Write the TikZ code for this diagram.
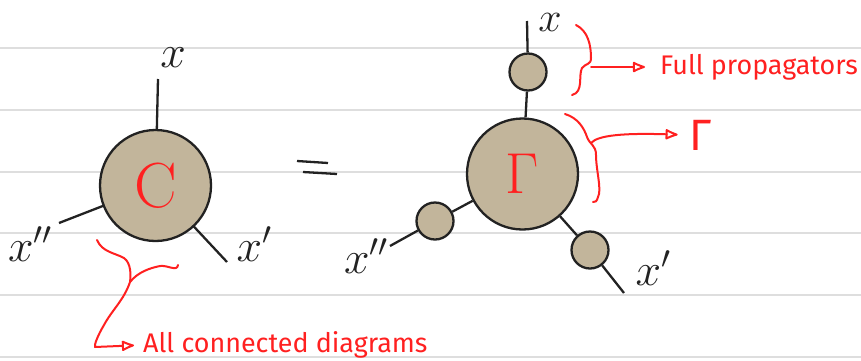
\RequirePackage{fix-cm}
\documentclass[tikz,border=0pt]{standalone}
\usepackage{fontspec}
\setsansfont{Fira Sans}
\usetikzlibrary{arrows.meta}
\definecolor{rule}{HTML}{DEDEDE}
\definecolor{blob}{HTML}{C2B59B}
\definecolor{ink}{HTML}{222222}
\definecolor{pen}{HTML}{FF2020}
\tikzset{
  bigblob/.style={circle,draw=ink,line width=2.3bp,fill=blob,minimum size=111bp,inner sep=0pt,text=pen},
  smallblob/.style={circle,draw=ink,line width=2.3bp,fill=blob,minimum size=37bp,inner sep=0pt},
  leg/.style={draw=ink,line width=2.3bp},
  hand/.style={text=ink,font=\fontsize{46}{46}\selectfont,inner sep=0pt},
  redpen/.style={draw=pen,line width=2bp,line cap=round,line join=round},
  redtip/.style={-{Latex[open,length=15bp,width=12bp,round]}},
  note/.style={text=pen,font=\sffamily\fontsize{27}{30}\selectfont,inner sep=0pt,anchor=west},
  ruling/.style={draw=rule,line width=2.5bp}
}
\begin{document}
\begin{tikzpicture}[x=1bp,y=-1bp]
\useasboundingbox (0,0) rectangle (861,360);
% ruled lines
\foreach \yy in {48,110,172,233,295,357}{\draw[ruling] (0,\yy) -- (861,\yy);}
% left diagram
\coordinate (cT) at (158,79);
\coordinate (cL) at (59,223);
\coordinate (cR) at (227,262);
\draw[leg] (cT) -- (155.5,185.5);
\draw[leg] (cL) -- (155.5,185.5);
\draw[leg] (cR) -- (155.5,185.5);
\node[bigblob,font=\fontsize{64}{64}\selectfont] (C) at (155.5,185.5) {C};
\node[hand] (lxT) at (173,58) {$x$};
\node[hand] (lxL) at (30,244) {$x''$};
\node[hand] (lxR) at (254,244) {$x'$};
% equals
\draw[leg] (297,161) -- (328,163);
\draw[leg] (303,172) -- (337,174);
% right diagram
\coordinate (gT) at (527,21);
\coordinate (gL) at (390,246);
\coordinate (gR) at (624,293);
\node[bigblob,font=\fontsize{58}{58}\selectfont] (G) at (522.5,174) {$\Gamma$};
\node[smallblob] (p1) at (528,72) {};
\node[smallblob] (p3) at (435,221) {};
\node[smallblob] (p2) at (590,250) {};
\draw[leg] (gT) -- (p1);
\draw[leg] (p1) -- (G);
\draw[leg] (gL) -- (p3);
\draw[leg] (p3) -- (G);
\draw[leg] (gR) -- (p2);
\draw[leg] (p2) -- (G);
\node[hand,font=\fontsize{42}{42}\selectfont] (rxT) at (550,22) {$x$};
\node[hand] (rxL) at (366,256) {$x''$};
\node[hand] (rxR) at (653,268) {$x'$};
% annotations
\node[note] (fp) at (660,67) {Full propagators};
\node[text=pen,font=\sffamily\fontsize{44}{44}\selectfont,inner sep=0pt] (gam) at (701,135) {Γ};
\node[note] (acd) at (143,345) {All connected diagrams};
\coordinate (j1) at (591,67);
\coordinate (j2) at (591,143);
\coordinate (j3) at (130,282);
\draw[redpen] (576,25) .. controls (588,31) and (591,45) .. (591,58) .. controls (591,65) and (586,63) .. (582,68) .. controls (578,76) and (584,92) .. (572,95);
\draw[redpen,redtip,shorten >=15bp] (j1) -- (fp.west);
\draw[redpen] (565,114) .. controls (578,118) and (584,128) .. (587,137) .. controls (590,145) and (596,145) .. (596,155) .. controls (596,170) and (602,190) .. (598,197) .. controls (597,201) and (595,203) .. (593,202);
\draw[redpen,redtip,shorten >=12bp] (j2) .. controls (598,135) and (625,133) .. (gam.west);
\draw[redpen] (97,240) .. controls (102,252) and (115,253) .. (124,258) .. controls (131,263) and (131,275) .. (j3);
\draw[redpen] (j3) .. controls (138,272) and (150,268) .. (160,266) .. controls (168,265) and (177,272) .. (178,265);
\draw[redpen,redtip,shorten >=9bp] (j3) .. controls (124,300) and (112,310) .. (104,325) .. controls (98,335) and (94,345) .. (95,347) -- (acd.west);
\end{tikzpicture}
\end{document}
